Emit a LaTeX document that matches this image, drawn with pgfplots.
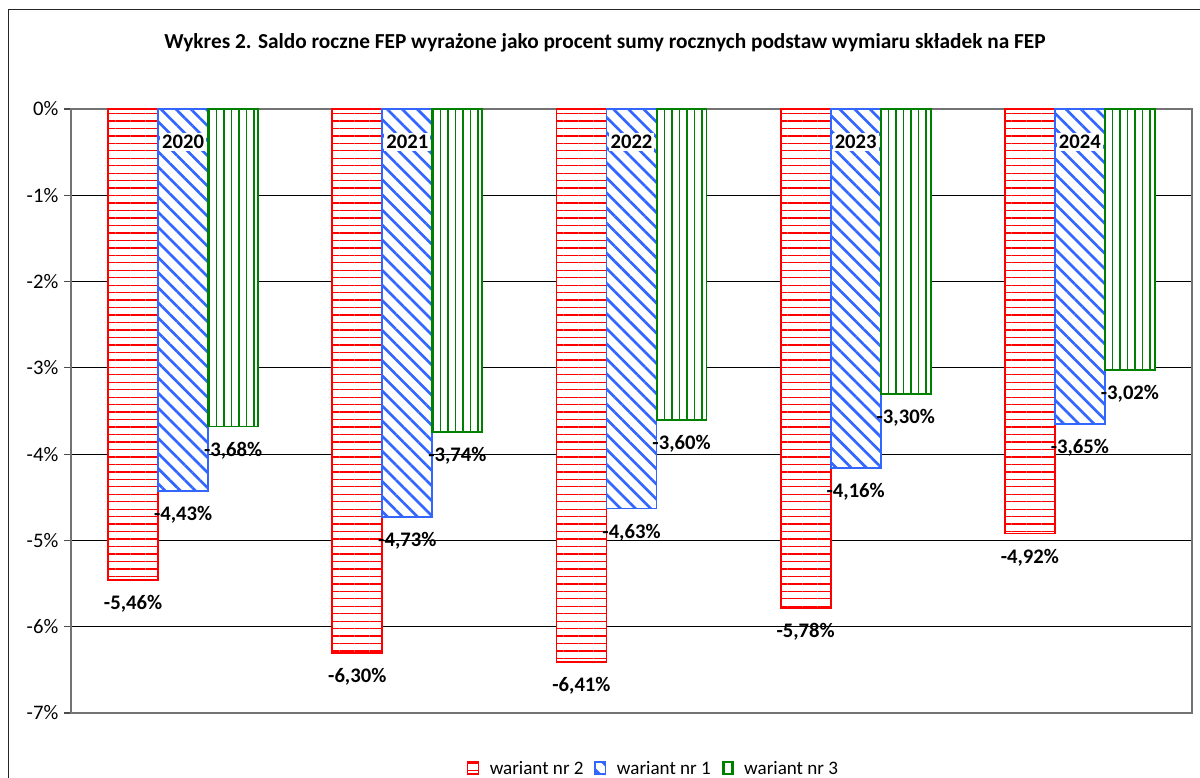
\documentclass[border=0pt]{standalone}
\usepackage{fontspec}
\setmainfont{Carlito}
\usepackage{pgfplots}
\pgfplotsset{compat=1.18}
\usetikzlibrary{patterns.meta}
\definecolor{cRed}{RGB}{255,0,0}
\definecolor{cBlue}{RGB}{51,102,255}
\definecolor{cGreen}{RGB}{0,128,0}

\pgfplotstableread{
x red blue green
0 -5.46 -4.43 -3.68
1 -6.30 -4.73 -3.74
2 -6.41 -4.63 -3.60
3 -5.78 -4.16 -3.30
4 -4.92 -3.65 -3.02
}\datatable

\begin{document}
\begin{tikzpicture}
\path[use as bounding box] (0,0) rectangle (900pt,583.5pt);
\draw[line width=1pt, black!85] (6.4pt,-5pt) -- (6.4pt,576.5pt) -- (910pt,576.5pt);
\node[font=\bfseries\fontsize{16}{19}\selectfont] at (453.75pt,551.25pt) {Wykres 2. Saldo roczne FEP wyrażone jako procent sumy rocznych podstaw wymiaru składek na FEP};
\begin{axis}[
  at={(53.25pt,48.75pt)}, anchor=south west,
  scale only axis, width=840.75pt, height=453pt,
  xmin=-0.5, xmax=4.5, ymin=-7, ymax=0,
  xtick=\empty,
  ytick={-7,-6,-5,-4,-3,-2,-1,0},
  yticklabels={-7\%,-6\%,-5\%,-4\%,-3\%,-2\%,-1\%,0\%},
  ytick pos=left,
  ymajorgrids, grid style={black, line width=0.6pt},
  tick align=outside, major tick length=5pt,
  tick style={black!70, line width=0.8pt},
  axis line style={black!55, line width=1.2pt},
  yticklabel style={font=\fontsize{15.5}{18}\selectfont, xshift=-1pt},
  ybar, bar width=0.2232,
  clip=false,
  legend style={at={(0.52,-0.092)}, anchor=center, draw=none, fill=none,
    font=\fontsize{14.3}{16}\selectfont, legend columns=3,
    /tikz/every odd column/.append style={column sep=6pt},
    /tikz/every even column/.append style={column sep=6pt}},
  legend image code/.code={\draw[#1, line width=1pt] (0pt,-4pt) rectangle (8pt,5pt);},
  nodes near coords={\pgfmathprintnumber[fixed, fixed zerofill, precision=2, use comma, assume math mode=true]{\pgfplotspointmeta}\%},
  nodes near coords style={font=\bfseries\fontsize{15.5}{18}\selectfont},
]
\addplot[draw=cRed, line width=1.4pt, fill=white, postaction={pattern={Lines[angle=0, distance=5.6pt, line width=1pt]}, pattern color=cRed}, bar shift=-0.2232,
  every node near coord/.append style={anchor=center, yshift=-18pt}]
  table[x=x, y=red] {\datatable};
\addplot[draw=cBlue, line width=1.4pt, fill=white, postaction={pattern={Lines[angle=-45, distance=8pt, line width=2pt]}, pattern color=cBlue}, bar shift=0,
  every node near coord/.append style={anchor=center, yshift=-18pt}]
  table[x=x, y=blue] {\datatable};
\addplot[draw=cGreen, line width=1.4pt, fill=white, postaction={pattern={Lines[angle=90, distance=5.6pt, line width=1.2pt]}, pattern color=cGreen}, bar shift=0.2232,
  every node near coord/.append style={anchor=center, yshift=-18pt}]
  table[x=x, y=green] {\datatable};
\legend{wariant nr 2, wariant nr 1, wariant nr 3}
\foreach \i/\yr in {0/2020,1/2021,2/2022,3/2023,4/2024}{
  \edef\tmp{\noexpand\node[fill=white, inner sep=1.5pt, font=\noexpand\bfseries\noexpand\fontsize{15.5}{18}\noexpand\selectfont] at (axis cs:\i,-0.38) {\yr};}
  \tmp
}
\end{axis}
\end{tikzpicture}
\end{document}
